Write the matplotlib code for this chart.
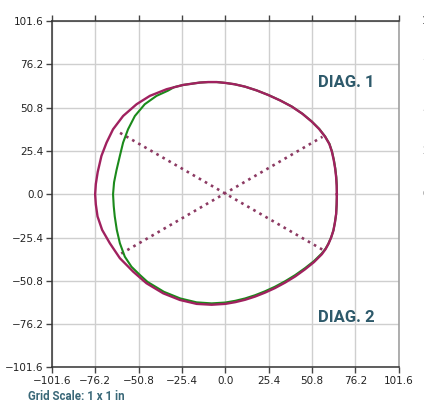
import numpy as np
import matplotlib
matplotlib.use("Agg")
import matplotlib.pyplot as plt

# outer outline (magenta), counter-clockwise from the right side
outer_x = [65.4, 65.3, 65.0, 64.4, 63.6, 62.5, 61.0, 58.5, 55.0, 50.7, 45.2, 39.0,
           32.2, 25.2, 18.4, 11.6, 5.5, 0.0, -5.0, -10.0, -14.9, -24.7, -34.4,
           -44.2, -52.0, -59.9, -65.8, -69.6, -72.6, -74.8, -75.9, -76.3,
           -75.9, -74.9, -72.2, -67.7, -61.8, -54.0, -46.2, -36.4, -26.6, -16.8,
           -8.0, 0.0, 5.8, 11.6, 17.5, 23.3, 29.2, 35.1, 41.0, 46.8, 52.0, 56.6,
           58.8, 60.5, 62.1, 63.4, 64.3, 65.0, 65.3, 65.4]
outer_y = [0.0, 5.0, 10.0, 15.2, 20.0, 25.0, 29.5, 33.8, 38.3, 42.6, 47.2, 51.4,
           55.0, 58.2, 60.9, 63.1, 64.5, 65.3, 65.8, 65.8, 65.5, 64.1, 61.6,
           57.7, 52.8, 45.9, 38.1, 30.3, 22.5, 13.0, 6.0, 0.0,
           -6.0, -13.0, -20.9, -28.7, -37.5, -45.4, -52.2, -58.1, -62.0, -64.3,
           -64.8, -64.3, -63.3, -61.9, -60.0, -57.7, -55.0, -51.8, -48.2, -44.0, -39.8, -35.2,
           -32.2, -29.1, -25.3, -21.3, -16.5, -11.6, -6.0, 0.0]

# inner outline (green), flatter on the left side
inner_x = [65.5, 65.4, 65.1, 64.5, 63.7, 62.6, 61.1, 58.6, 55.1, 50.8, 45.3, 39.1,
           32.3, 25.3, 18.4, 11.6, 5.5, 0.0, -5.0, -10.0, -14.9, -24.7, -30.0,
           -33.5, -40.3, -47.2, -53.0, -57.0, -59.9, -61.8, -63.8, -65.2, -65.8,
           -65.4, -64.8, -63.6, -61.8, -58.9, -55.0, -50.1, -45.6, -36.0, -26.4,
           -16.8, -8.0, 0.0, 5.8, 11.6, 17.5, 23.3, 29.2, 35.1, 41.0, 46.8,
           52.0, 56.6, 58.8, 60.5, 62.1, 63.4, 64.3, 65.0, 65.3, 65.5]
inner_y = [0.0, 5.0, 10.0, 15.2, 20.0, 25.0, 29.5, 33.8, 38.3, 42.6, 47.2, 51.4,
           55.0, 58.2, 60.9, 63.1, 64.5, 65.3, 65.8, 65.8, 65.5, 64.1, 62.8,
           60.8, 57.7, 52.8, 45.9, 38.1, 30.3, 22.5, 14.0, 7.0, 0.0,
           -7.0, -13.0, -20.9, -28.7, -36.6, -42.5, -47.3, -51.4, -57.2, -61.1,
           -63.4, -64.0, -63.5, -62.5, -61.1, -59.2, -56.9, -54.2, -51.0, -47.4, -43.3,
           -39.2, -34.7, -31.9, -28.9, -25.2, -21.2, -16.5, -11.6, -6.0, 0.0]

# diagonals
diag1_x = [-61.7, 57.0]
diag1_y = [36.0, -32.5]
diag2_x = [-61.0, 57.0]
diag2_y = [-34.8, 33.7]

ticks = [-101.6, -76.2, -50.8, -25.4, 0.0, 25.4, 50.8, 76.2, 101.6]
next_labels = ["101.6", "76.2", "50.8", "25.4", "0.0"]

fig = plt.figure(figsize=(4.24, 4.08), dpi=100)
ax = fig.add_axes([0.1226, 0.0993, 0.8174, 0.8492])

ax.plot(diag1_x, diag1_y, color="#8c3a63", lw=1.9, ls=":", zorder=2)
ax.plot(diag2_x, diag2_y, color="#8c3a63", lw=1.9, ls=":", zorder=2)
ax.plot(inner_x, inner_y, color="#1b8a1b", lw=1.5, zorder=3, solid_joinstyle="round")
ax.plot(outer_x, outer_y, color="#a0215f", lw=1.7, zorder=4, solid_joinstyle="round")

ax.set_xlim(-101.6, 101.6)
ax.set_ylim(-101.6, 101.6)
ax.set_xticks(ticks)
ax.set_yticks(ticks)
ax.set_xticklabels(["%.1f" % t if t >= 0 else "\u2212%.1f" % -t for t in ticks])
ax.set_yticklabels(["%.1f" % t if t >= 0 else "\u2212%.1f" % -t for t in ticks])
ax.grid(True, color="#cfcfcf", lw=1.0)
ax.set_axisbelow(True)
ax.tick_params(axis="both", labelsize=7.5, length=4, width=1, color="#444444",
               labelcolor="#222222", pad=2)
ax.tick_params(axis="x", top=True)
for s in ["left", "bottom", "top"]:
    ax.spines[s].set_color("#333333")
    ax.spines[s].set_linewidth(1.1)
ax.spines["right"].set_color("#999999")
ax.spines["right"].set_linewidth(1.1)

ax.text(70.9, 65.3, "DIAG. 1", family="Roboto", fontweight="bold", fontsize=12,
        color="#2e5a6b", ha="center", va="center")
ax.text(70.9, -72.0, "DIAG. 2", family="Roboto", fontweight="bold", fontsize=12,
        color="#2e5a6b", ha="center", va="center")

fig.text(0.066, 0.027, "Grid Scale: 1 x 1 in", family="Roboto", fontweight="bold",
         fontsize=8.3, color="#3a6878", ha="left", va="center")

# edge of the neighbouring panel's tick labels
for i, lab in enumerate(next_labels):
    yy = 0.0993 + 0.8492 * (101.6 - 25.4 * i + 101.6) / 203.2
    fig.text(422 / 424, yy, lab, fontsize=7.5, color="#222222", ha="left", va="center")

fig.savefig("out.png", dpi=100)
